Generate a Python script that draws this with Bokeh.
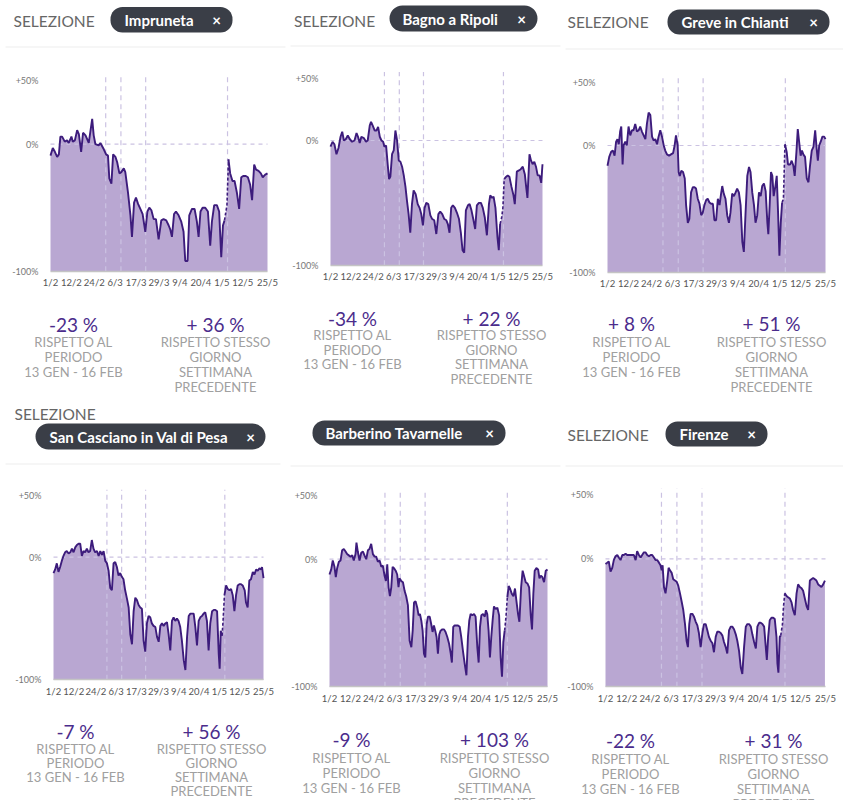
from bokeh.plotting import figure
from bokeh.models import Range1d, Label, BoxAnnotation, FixedTicker, ColumnDataSource, LinearAxis
from bokeh.embed import file_html
from bokeh.resources import INLINE

# ---------------- data ----------------
tick_days = [0, 11, 23, 34, 45, 57, 68, 79, 90, 101, 114]
tick_labels = ["1/2", "12/2", "24/2", "6/3", "17/3", "29/3", "9/4", "20/4", "1/5", "12/5", "25/5"]
event_days = [29, 37, 50, 93]
y_ticks = [-100, 0, 50]
y_tick_labels = ["-100%", "0%", "+50%"]

names = ["Impruneta", "Bagno a Ripoli", "Greve in Chianti",
         "San Casciano in Val di Pesa", "Barberino Tavarnelle", "Firenze"]
show_selezione = [True, True, True, True, False, True]
vs_period = [-23, -34, 8, -7, -9, -22]
vs_prev_week = [36, 22, 51, 56, 103, 31]
period_lines = ["RISPETTO AL", "PERIODO", "13 GEN - 16 FEB"]
week_lines = ["RISPETTO STESSO", "GIORNO", "SETTIMANA", "PRECEDENTE"]

days_impruneta = [0,1.2,2.3,3.5,4.4,5.2,6.1,7.5,8.7,9.6,11,11.7,12.8,14,14.9,16.1,17.1,18.4,20.1,21.9,22.7,23.6,25.3,26.2,28,29.2,30.2,30.9,32,32.9,34.1,35,36.2,37.2,38.5,39.3,40.7,42,42.8,43.9,44.9,46,47.2,48.4,49.8,50.9,51.9,53,54.2,55.4,56.8,58.2,59.4,60.8,62.1,62.9,63.8,64.9,65.9,67.3,68.7,69.9,70.8,72,72.9,74.3,75.7,76.9,77.8,78.8,79.9,81.3,82.7,83.9,84.8,86,87.4,88.6,89.7,90.6,91.4,92.7,93.5,94.4,95.6,96.7,97.9,99.1,100.2,101.4,102.6,103.7,104.9,105.9,107,108,109.3,110.5,111.5,112.8,114]
vals_impruneta = [-9,-3,-6,-10,-8,6,6,2,3,1,6,2,3,11,8,-6,9,7,1,20,7,0,-1,1,-4,-8,-9,-27,-31,-8,-10,-14,-23,-22,-19,-22,-38,-56,-73,-46,-42,-47,-51,-55,-69,-53,-50,-52,-59,-59,-75,-60,-59,-60,-64,-67,-73,-55,-53,-56,-61,-69,-92,-92,-56,-51,-51,-61,-73,-53,-50,-50,-53,-80,-61,-48,-48,-53,-89,-64,-60,-48,-12,-23,-29,-29,-38,-51,-26,-25,-25,-26,-32,-44,-16,-20,-21,-23,-26,-24,-23]

days_bagno = [0,1.1,2.1,3.2,4.3,5.4,6.3,7.2,8.2,9.3,10.4,11.6,12.9,14,14.8,15.7,16.6,17.9,19.1,20,21.1,21.8,22.7,23.8,24.7,25.6,26.5,27.4,28.3,29,29.9,30.8,31.5,32.2,33.1,34,34.9,35.8,36.7,37.6,38.5,39.4,40.3,41.1,42,42.9,43.8,44.7,45.8,46.9,47.9,48.8,49.7,50.6,51.5,52.6,53.7,54.7,55.8,56.9,58,59,60.1,61.2,62.3,63.1,64,64.9,65.8,66.9,68,69.1,70.1,71,71.9,72.8,73.9,74.8,75.8,76.9,77.8,78.7,79.8,80.9,81.9,83,84.1,85.2,85.9,86.9,87.7,88.7,89.8,90.5,91.2,92,92.7,93.4,94.5,95.3,96.2,97.3,98.4,99.1,100.2,101.3,102.3,103.4,104.5,105.2,105.9,107,107.8,108.7,109.6,110.5,111.4,112.4,113.3,114]
vals_bagno = [-5,-1,-3,-11,-6,3,7,0,1,4,1,-1,0,6,3,-2,3,2,-1,0,12,15,12,8,8,11,3,0,-1,-5,-4,-20,-31,-29,-11,-8,8,0,-16,-17,-21,-28,-37,-48,-59,-74,-51,-40,-43,-51,-54,-59,-68,-54,-50,-51,-60,-63,-64,-75,-59,-57,-59,-63,-64,-67,-74,-54,-52,-54,-58,-63,-74,-88,-90,-56,-52,-51,-56,-64,-71,-52,-50,-50,-54,-62,-76,-51,-44,-46,-45,-54,-78,-88,-67,-62,-54,-31,-29,-28,-29,-37,-44,-51,-25,-24,-23,-21,-27,-37,-46,-11,-16,-19,-17,-21,-28,-28,-34,-19]

days_greve = [0,0.9,1.9,2.8,3.7,4.5,5.2,5.9,6.6,7.2,7.9,8.4,9.3,10.1,11,11.9,12.8,13.6,14.5,15.4,16.3,17.1,18,18.9,19.8,20.6,21.5,22.4,23.3,24.1,25,25.9,26.7,27.6,28.5,29.4,30.2,31.1,32.2,33.2,34.3,35.1,35.8,36.7,37.2,37.8,38.6,39.5,40.4,41.1,42,42.8,43.7,44.6,45.5,46.3,47.2,48.1,49,49.8,50.7,51.6,52.4,53.3,54.2,55.1,55.9,56.8,57.7,58.6,59.4,60,60.8,61.7,62.6,63.5,64.3,65.2,66.1,67,67.8,68.7,69.6,70.5,71.3,72.2,73.1,74,74.8,75.7,76.6,77.4,78.3,79.2,80.1,80.9,81.8,82.7,83.6,84.1,84.8,85.5,86.2,86.9,87.8,88.5,89.2,89.9,90.6,91.3,92,92.8,93.7,94.4,95.5,96.3,97.2,97.9,98.8,99.5,100.2,101,101.7,102.4,103.3,104.2,105.1,105.9,106.8,107.7,108.6,109.4,110,110.7,111.5,112.4,113.3,114]
vals_greve = [-16,-9,-5,-4,-8,3,5,1,11,15,-15,0,3,0,15,8,12,12,17,11,12,15,11,8,5,17,26,24,7,4,5,1,7,12,7,0,-4,-7,-8,-7,-6,0,8,0,-21,-24,-20,-21,-26,-47,-61,-58,-37,-33,-33,-34,-42,-46,-55,-53,-47,-43,-42,-45,-46,-46,-59,-59,-42,-47,-38,-32,-38,-42,-55,-61,-53,-38,-40,-37,-34,-37,-47,-76,-84,-53,-24,-17,-21,-37,-47,-61,-55,-37,-40,-32,-30,-36,-61,-70,-47,-21,-24,-40,-32,-24,-53,-87,-61,-45,-42,1,-5,-15,-15,-12,-16,-24,-5,13,3,-8,-4,-7,-9,-26,-29,-16,-4,-1,12,-3,-12,0,3,7,7,5]

days_sancasciano = [0,0.9,1.8,2.7,3.6,4.5,5.4,6.3,7.2,8.2,9.1,10,10.9,11.8,12.7,13.6,14.5,15.4,16.3,17.2,18.1,19,19.9,20.8,21.7,22.6,23.6,24.5,25.4,26.3,27.2,28.1,29,29.9,30.8,31.7,32.6,33.5,34.4,35.3,36.2,37.1,38,38.9,39.9,40.8,41.7,42.6,43.5,44.4,45.3,46.2,47.1,48,48.9,49.8,50.7,51.6,52.5,53.4,54.3,55.3,56.2,57.1,58,58.9,59.8,60.7,61.6,62.5,63.4,64.3,65.2,66.1,67,67.9,68.8,69.7,70.7,71.6,72.5,73.4,74.3,75.2,76.1,77,77.9,78.8,79.7,80.6,81.5,82.4,83.3,84.2,85.1,86.1,87,87.9,88.8,89.7,90.2,90.8,91.5,92,92.8,93.7,94.6,95.5,96.4,97.3,98.2,99.1,100,100.9,101.8,102.7,103.8,104.5,105.4,106.3,107.2,108.2,109.1,110,110.9,111.8,112.7,113.2,114]
vals_sancasciano = [-13,-10,-5,-12,-8,-3,1,4,5,3,4,7,4,8,10,11,11,1,5,4,7,4,5,14,7,4,5,1,5,2,5,-3,-5,-11,-25,-27,-5,-4,-8,-15,-13,-16,-18,-27,-34,-41,-63,-71,-44,-33,-35,-39,-41,-42,-68,-77,-54,-48,-49,-54,-56,-57,-65,-69,-56,-54,-56,-54,-53,-63,-76,-52,-49,-52,-50,-52,-57,-68,-84,-92,-65,-48,-46,-46,-46,-57,-72,-52,-49,-48,-46,-45,-52,-76,-54,-44,-43,-43,-44,-79,-91,-60,-64,-53,-31,-23,-26,-27,-26,-31,-44,-31,-23,-22,-22,-23,-27,-37,-41,-19,-18,-12,-14,-10,-11,-9,-10,-8,-17]

days_barberino = [0,0.9,1.7,2.6,3.3,4,4.9,5.8,6.6,7.5,8.4,9.2,10.1,11,11.9,12.7,13.6,14.1,14.8,15.7,16.6,17.5,18.3,19.2,20.1,20.9,21.8,22.7,23.6,24.4,25.3,26.2,27.1,27.9,28.8,29.5,30.2,30.9,31.6,32.3,33,33.7,34.6,35.4,36.1,36.6,37.5,38.4,39.3,40.1,41,41.9,42.8,43.5,44.2,45,45.9,46.6,47.3,48,48.7,49.4,50.1,50.8,51.5,52.4,53.2,53.9,54.6,55.3,56,56.7,57.4,58.1,59,59.9,60.7,61.6,62.5,63.4,64,64.7,65.4,66.3,67.2,68.1,68.9,69.8,70.7,71.6,72.4,73.1,73.8,74.7,75.6,76.4,77.3,78,78.7,79.4,80.3,81.2,81.8,82.5,83.2,83.9,84.6,85.3,86,86.9,87.8,88.7,89.5,90.2,90.9,91.6,92.3,93,93.7,94.4,95.3,96.2,97,97.7,98.6,99.3,100.2,101,101.7,102.6,103.5,104.4,105.2,105.9,106.6,107.3,108.2,109.1,109.8,110.5,111.3,112.2,113.1,114]
vals_barberino = [-12,-8,-1,-6,-14,-7,-2,-1,7,8,6,4,3,2,3,-1,4,13,6,-1,5,6,3,0,7,8,12,4,2,2,-2,-1,-6,-5,-13,-17,-4,-22,-29,-22,-6,-7,-9,-12,-22,-15,-17,-18,-25,-29,-36,-64,-69,-56,-34,-33,-38,-44,-43,-48,-56,-74,-77,-51,-45,-45,-51,-57,-52,-56,-61,-74,-59,-56,-55,-55,-57,-61,-66,-74,-81,-53,-52,-52,-52,-53,-61,-72,-82,-91,-61,-48,-43,-44,-43,-45,-69,-81,-53,-44,-43,-45,-40,-43,-56,-77,-61,-48,-37,-39,-38,-44,-77,-92,-65,-56,-45,-30,-21,-23,-27,-29,-23,-32,-43,-49,-22,-9,-13,-18,-19,-22,-43,-55,-27,-9,-7,-8,-15,-13,-14,-18,-9,-8]

days_firenze = [0,0.9,1.7,2.6,3.5,4.3,5.2,6.1,6.9,7.8,8.7,9.5,10.4,11.2,12.1,13,13.8,14.7,15.6,16.4,17.3,18.2,19,19.9,20.8,21.6,22.5,23.4,24.2,25.1,25.9,26.8,27.7,28.5,29.1,29.6,30.3,31.1,32,32.7,33.4,34.3,35.1,36,36.9,37.7,38.6,39.4,40.3,41.2,42,42.7,43.4,44.1,45,45.8,46.7,47.6,48.4,49.3,50.2,51,51.9,52.8,53.6,54.5,55.4,56.2,57.1,57.9,58.8,59.7,60.6,61.4,62.3,63.1,64,64.9,65.7,66.6,67.5,68.3,69.2,70.1,70.9,71.8,72.7,73.5,74.4,75.3,76.1,77,77.9,78.7,79.6,80.4,81.3,82.2,83,83.6,84.3,85.1,86,86.9,87.7,88.6,89.1,89.6,90.3,90.8,91.7,92.2,92.9,93.8,94.6,95.5,96.4,97.2,98.1,99,99.8,100.7,101.6,102.4,103.3,104.2,105,105.9,106.7,107.6,108.5,109.3,110.2,111.1,111.9,112.8,113.7]
vals_firenze = [-4,-3,-2,-10,-7,-1,2,3,1,-1,3,3,4,3,3,3,3,3,-1,6,3,1,3,5,5,3,2,3,3,1,-1,-1,-3,-5,-9,-5,-22,-27,-17,-7,-9,-11,-16,-17,-18,-21,-27,-33,-40,-51,-64,-69,-51,-43,-43,-45,-49,-52,-58,-69,-58,-51,-51,-56,-61,-64,-66,-73,-61,-57,-57,-58,-60,-65,-69,-74,-56,-53,-53,-55,-59,-64,-72,-85,-90,-69,-53,-51,-51,-53,-59,-65,-70,-53,-50,-50,-51,-53,-68,-79,-61,-48,-46,-46,-47,-61,-82,-89,-61,-60,-51,-38,-27,-29,-30,-31,-34,-40,-44,-27,-20,-22,-23,-25,-31,-37,-40,-17,-16,-15,-16,-17,-20,-21,-22,-20,-17]

all_days = [days_impruneta, days_bagno, days_greve, days_sancasciano, days_barberino, days_firenze]
all_vals = [vals_impruneta, vals_bagno, vals_greve, vals_sancasciano, vals_barberino, vals_firenze]

# ---------------- layout (page pixels, top-left origin) ----------------
W, H = 843, 800
geo = [
    dict(L=50, R=267, Y0=143.7, Yb=270.7, sel=(13, 20.5), pill=(110, 232, 6.5, 32),
         tx=124, xx=216, sep=46, sepx=(5, 285), lx=73, rx=215, ny=324, ly=341.7, step=15),
    dict(L=330, R=542, Y0=140, Yb=264.7, sel=(293.5, 20), pill=(389, 537, 5, 31),
         tx=402, xx=521, sep=45, sepx=(290, 560), lx=352, rx=491, ny=317.5, ly=334.3, step=14.7),
    dict(L=607, R=825, Y0=145, Yb=271.7, sel=(567, 21), pill=(667, 829, 9, 34),
         tx=681, xx=813, sep=48, sepx=(565, 843), lx=631, rx=771, ny=323, ly=341, step=15),
    dict(L=53, R=263, Y0=556.7, Yb=679.3, sel=(14, 413.3), pill=(35, 265, 423, 449),
         tx=49, xx=250, sep=463, sepx=(5, 280), lx=75, rx=211, ny=731, ly=748.3, step=14.2),
    dict(L=329, R=547, Y0=558.7, Yb=686.3, sel=None, pill=(312, 505, 420, 445),
         tx=325, xx=489, sep=465, sepx=(290, 560), lx=351, rx=494, ny=739, ly=757.3, step=15),
    dict(L=605, R=825, Y0=558.3, Yb=686.3, sel=(567, 434), pill=(665, 767, 421, 446),
         tx=679, xx=751, sep=465, sepx=(565, 843), lx=630, rx=773, ny=740, ly=758, step=15),
]

FONT = "Lato"
LINE_C = "#3d1c7c"
AREA_C = "#b9a7d2"
DASH_C = "#cbc2e2"
PILL_C = "#3a3e47"
NUM_C = "#4b2c8c"
GRAY_C = "#a0a0a0"
Y_TOP = 55


def pct(v):
    return f"+ {v} %" if v > 0 else f"{v} %"


p = figure(width=W, height=H, x_range=Range1d(0, W), y_range=Range1d(0, H),
           x_axis_location=None, y_axis_location=None, output_backend="svg",
           toolbar_location=None, title=None, min_border=0)
p.background_fill_color = "white"
p.border_fill_color = "white"
p.outline_line_color = None
p.grid.visible = False


def fy(Y):  # page y (from top) -> primary data y
    return H - Y


xr, yr = {}, {}
for i, g in enumerate(geo):
    ppd = (g["R"] - g["L"]) / (tick_days[-1] - tick_days[0])
    xr[f"x{i}"] = Range1d(tick_days[0] - g["L"] / ppd, tick_days[-1] + (W - g["R"]) / ppd)
    ppp = (g["Yb"] - g["Y0"]) / 100.0
    yr[f"y{i}"] = Range1d(-100 - (H - g["Yb"]) / ppp, g["Y0"] / ppp)
p.extra_x_ranges = xr
p.extra_y_ranges = yr


def text(X, Y, t, size, color, align="left", style="normal"):
    p.add_layout(Label(x=X, y=fy(Y), text=t, text_font=FONT, text_font_size=size,
                       text_color=color, text_align=align, text_baseline="middle",
                       text_font_style=style))


for i, g in enumerate(geo):
    xn, yn = f"x{i}", f"y{i}"
    days = all_days[i]
    vals = all_vals[i]
    src = ColumnDataSource(dict(day=days, val=vals))
    p.varea(x="day", y1=y_ticks[0], y2="val", source=src, fill_color=AREA_C, fill_alpha=1.0,
            x_range_name=xn, y_range_name=yn)

    # reference lines
    p.segment(x0=event_days, y0=[y_ticks[0]] * len(event_days), x1=event_days,
              y1=[Y_TOP] * len(event_days), line_color=DASH_C, line_dash="5 4", line_width=1.2,
              x_range_name=xn, y_range_name=yn)
    p.segment(x0=[tick_days[0]], y0=[0], x1=[tick_days[-1]], y1=[0], line_color=DASH_C,
              line_dash="4 4", line_width=1.2, x_range_name=xn, y_range_name=yn)

    # series line (gap around the 1st of May drawn dashed)
    i0 = max(k for k, d in enumerate(days) if d <= 91.6)
    i1 = min(k for k, d in enumerate(days) if d >= 92.8)
    p.line(days[:i0 + 1], vals[:i0 + 1], line_color=LINE_C, line_width=1.9,
           x_range_name=xn, y_range_name=yn)
    p.line(days[i0:i1 + 1], vals[i0:i1 + 1], line_color=LINE_C, line_width=1.6,
           line_dash="3 2", x_range_name=xn, y_range_name=yn)
    p.line(days[i1:], vals[i1:], line_color=LINE_C, line_width=1.9,
           x_range_name=xn, y_range_name=yn)

    # axes
    xa = LinearAxis(x_range_name=xn, y_range_name=yn, fixed_location=y_ticks[0],
                    ticker=FixedTicker(ticks=tick_days),
                    major_label_overrides={d: t for d, t in zip(tick_days, tick_labels)},
                    bounds=(tick_days[0], tick_days[-1]))
    xa.axis_line_color = "#c4c4c4"
    xa.axis_line_width = 1.5
    xa.major_tick_line_color = None
    xa.minor_tick_line_color = None
    xa.major_tick_out = 0
    xa.major_tick_in = 0
    xa.major_label_standoff = 6
    xa.major_label_text_font = FONT
    xa.major_label_text_font_size = "9.5px"
    xa.major_label_text_color = "#555555"
    p.add_layout(xa, "below")

    ya = LinearAxis(x_range_name=xn, y_range_name=yn, fixed_location=tick_days[0],
                    ticker=FixedTicker(ticks=y_ticks),
                    major_label_overrides={d: t for d, t in zip(y_ticks, y_tick_labels)})
    ya.axis_line_color = None
    ya.major_tick_line_color = None
    ya.minor_tick_line_color = None
    ya.major_tick_out = 0
    ya.major_tick_in = 0
    ya.major_label_standoff = 12
    ya.major_label_text_font = FONT
    ya.major_label_text_font_size = "9px"
    ya.major_label_text_color = "#777777"
    p.add_layout(ya, "left")

    # header
    if show_selezione[i]:
        text(g["sel"][0], g["sel"][1], "SELEZIONE", "15.5px", "#666666")
    x0, x1, y0, y1 = g["pill"]
    p.add_layout(BoxAnnotation(left=x0, right=x1, top=fy(y0), bottom=fy(y1),
                               fill_color=PILL_C, fill_alpha=1.0, line_color=None,
                               border_radius=int((y1 - y0) / 2)))
    text(g["tx"], (y0 + y1) / 2, names[i], "15px", "white", style="bold")
    text(g["xx"], (y0 + y1) / 2, "\u00d7", "15px", "white", align="center", style="bold")
    p.add_layout(BoxAnnotation(left=g["sepx"][0], right=g["sepx"][1],
                               top=fy(g["sep"]), bottom=fy(g["sep"] + 1),
                               fill_color="#ededed", fill_alpha=1.0, line_color=None))

    # stats
    text(g["lx"], g["ny"], pct(vs_period[i]), "19px", NUM_C, align="center")
    text(g["rx"], g["ny"], pct(vs_prev_week[i]), "19px", NUM_C, align="center")
    for k, t in enumerate(period_lines):
        text(g["lx"], g["ly"] + k * g["step"], t, "13px", GRAY_C, align="center")
    for k, t in enumerate(week_lines):
        text(g["rx"], g["ly"] + k * g["step"], t, "13px", GRAY_C, align="center")

open("out.html", "w").write(file_html(p, INLINE))
